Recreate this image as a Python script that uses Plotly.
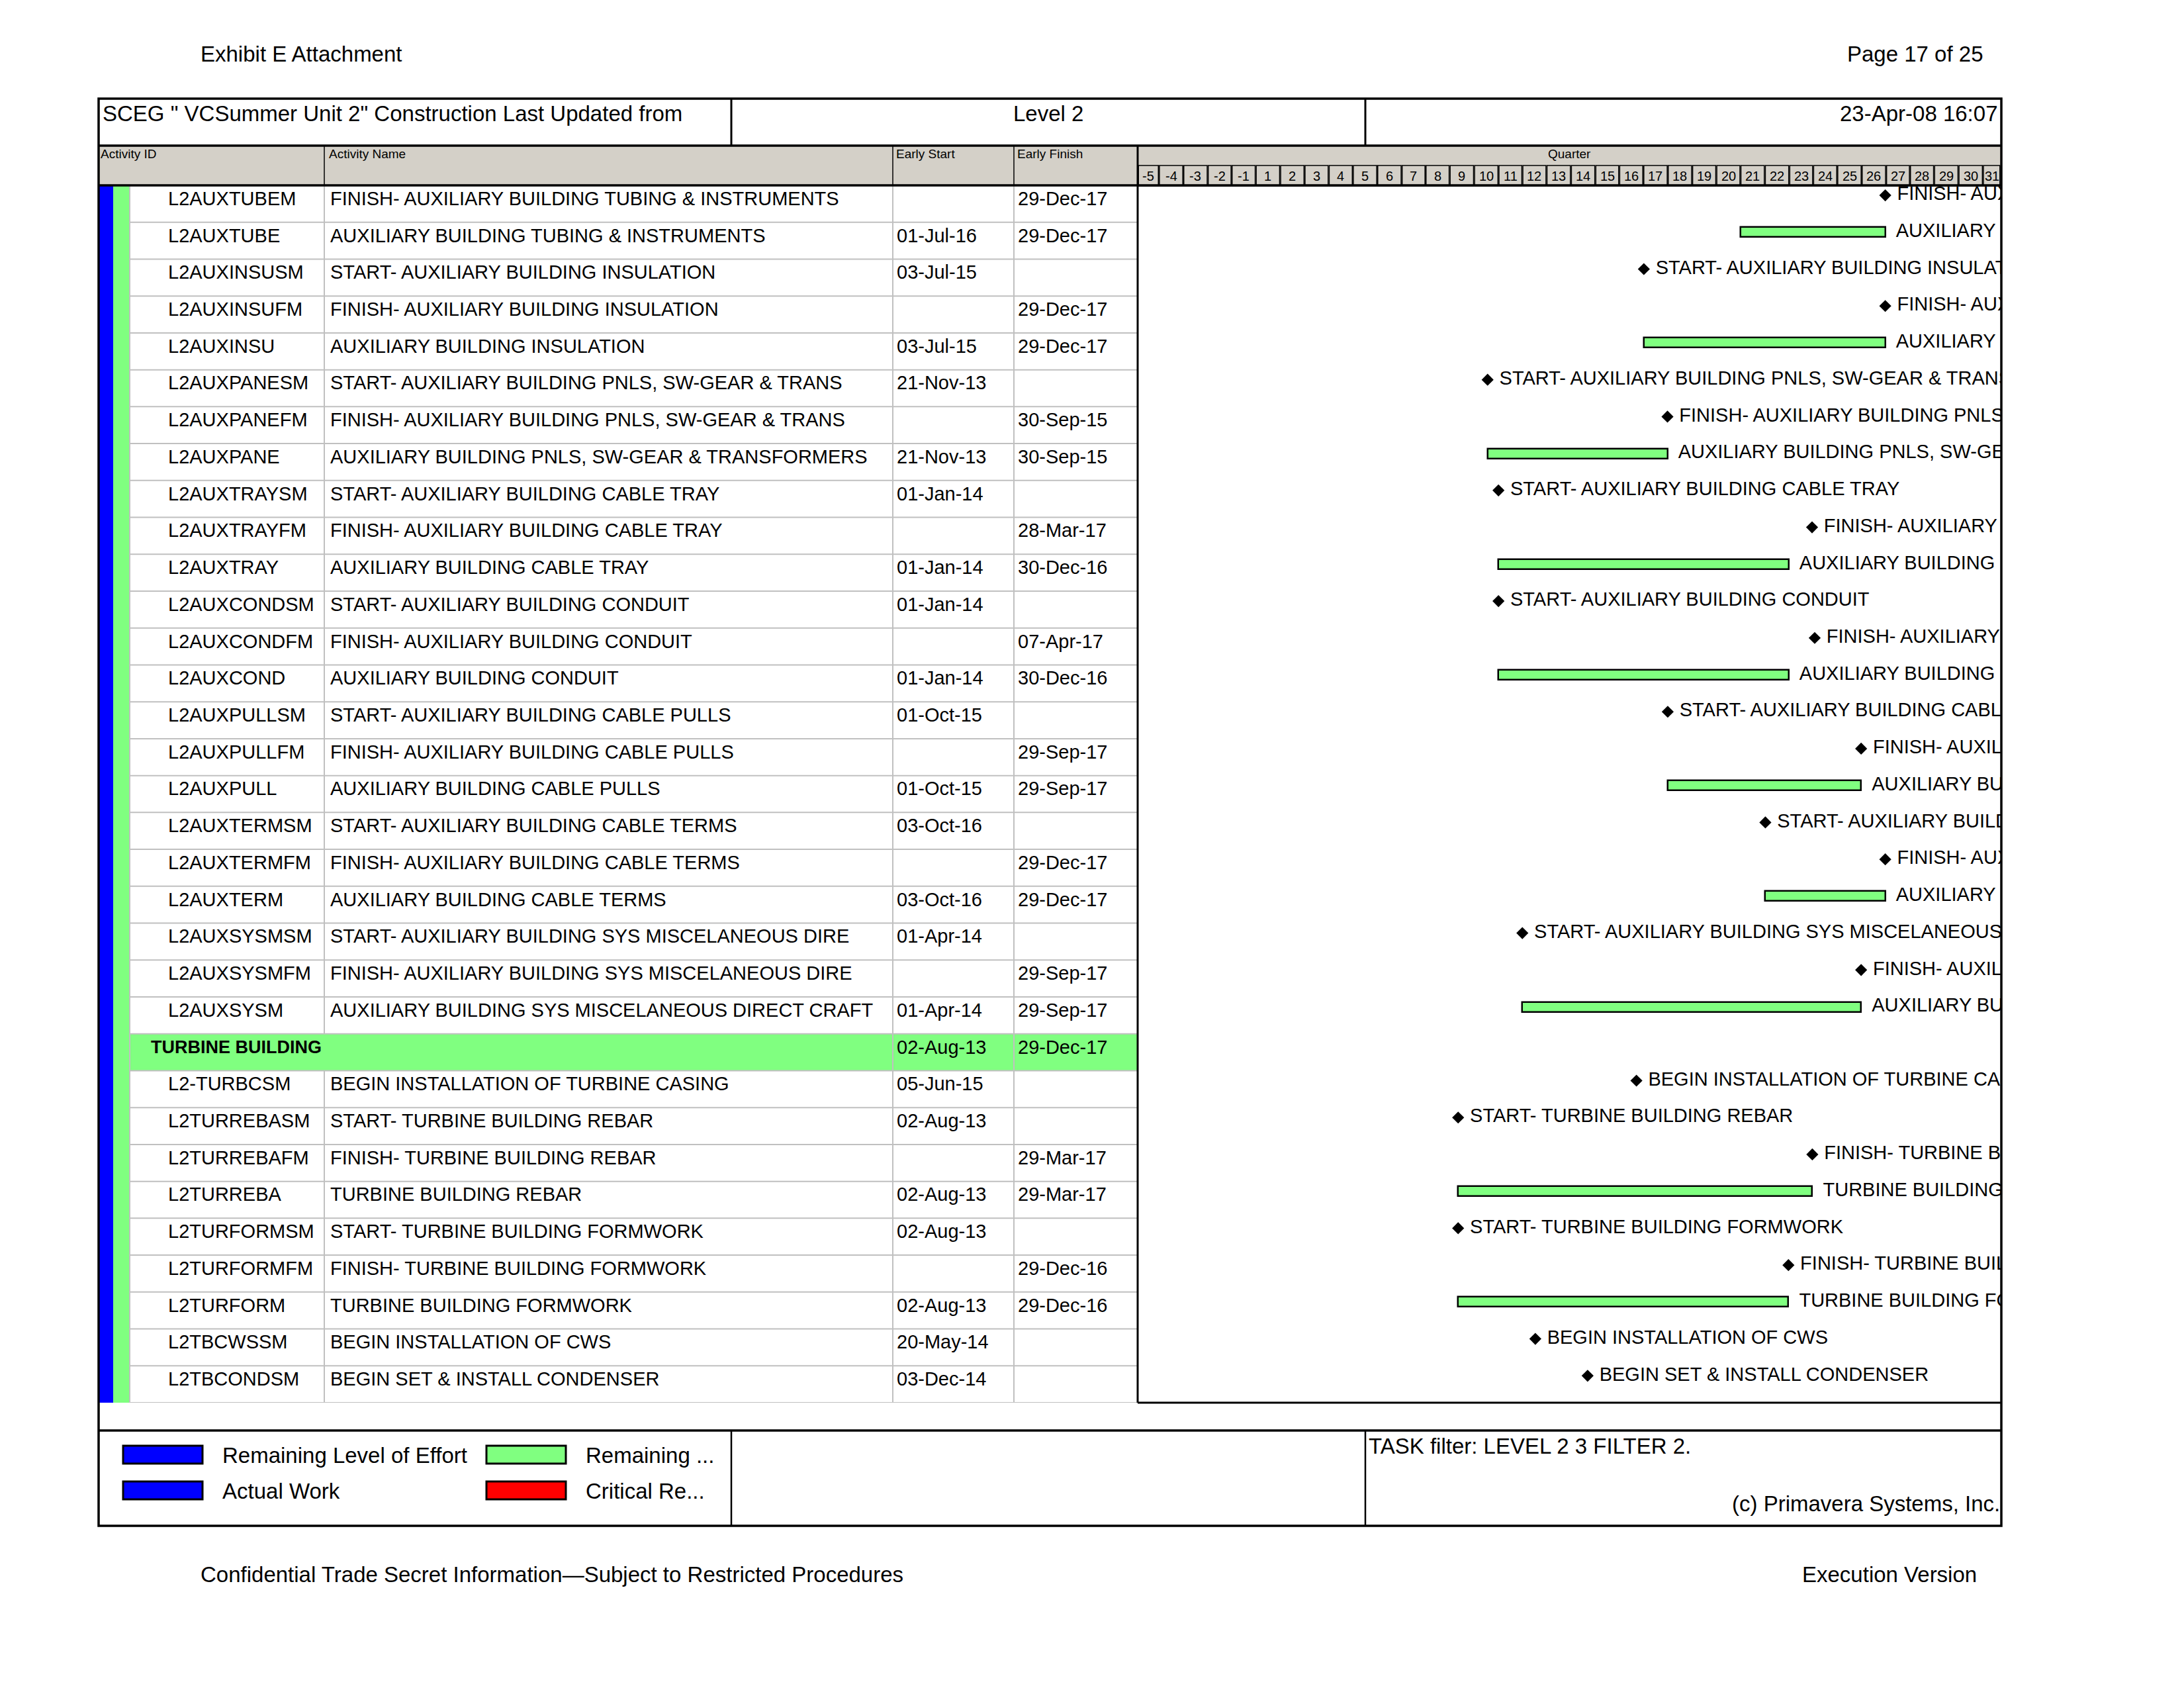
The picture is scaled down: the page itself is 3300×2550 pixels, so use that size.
import plotly.graph_objects as go
import pandas as pd

# ---------------- data ----------------
activity_ids = ["L2AUXTUBEM", "L2AUXTUBE", "L2AUXINSUSM", "L2AUXINSUFM", "L2AUXINSU",
                "L2AUXPANESM", "L2AUXPANEFM", "L2AUXPANE", "L2AUXTRAYSM", "L2AUXTRAYFM",
                "L2AUXTRAY", "L2AUXCONDSM", "L2AUXCONDFM", "L2AUXCOND", "L2AUXPULLSM",
                "L2AUXPULLFM", "L2AUXPULL", "L2AUXTERMSM", "L2AUXTERMFM", "L2AUXTERM",
                "L2AUXSYSMSM", "L2AUXSYSMFM", "L2AUXSYSM", "TURBINE BUILDING", "L2-TURBCSM",
                "L2TURREBASM", "L2TURREBAFM", "L2TURREBA", "L2TURFORMSM", "L2TURFORMFM",
                "L2TURFORM", "L2TBCWSSM", "L2TBCONDSM"]

activity_names = ["FINISH- AUXILIARY BUILDING TUBING & INSTRUMENTS",
                  "AUXILIARY BUILDING TUBING & INSTRUMENTS",
                  "START- AUXILIARY BUILDING INSULATION",
                  "FINISH- AUXILIARY BUILDING INSULATION",
                  "AUXILIARY BUILDING INSULATION",
                  "START- AUXILIARY BUILDING PNLS, SW-GEAR & TRANS",
                  "FINISH- AUXILIARY BUILDING PNLS, SW-GEAR & TRANS",
                  "AUXILIARY BUILDING PNLS, SW-GEAR & TRANSFORMERS",
                  "START- AUXILIARY BUILDING CABLE TRAY",
                  "FINISH- AUXILIARY BUILDING CABLE TRAY",
                  "AUXILIARY BUILDING CABLE TRAY",
                  "START- AUXILIARY BUILDING CONDUIT",
                  "FINISH- AUXILIARY BUILDING CONDUIT",
                  "AUXILIARY BUILDING CONDUIT",
                  "START- AUXILIARY BUILDING CABLE PULLS",
                  "FINISH- AUXILIARY BUILDING CABLE PULLS",
                  "AUXILIARY BUILDING CABLE PULLS",
                  "START- AUXILIARY BUILDING CABLE TERMS",
                  "FINISH- AUXILIARY BUILDING CABLE TERMS",
                  "AUXILIARY BUILDING CABLE TERMS",
                  "START- AUXILIARY BUILDING SYS MISCELANEOUS DIRE",
                  "FINISH- AUXILIARY BUILDING SYS MISCELANEOUS DIRE",
                  "AUXILIARY BUILDING SYS MISCELANEOUS DIRECT CRAFT",
                  "",
                  "BEGIN INSTALLATION OF TURBINE CASING",
                  "START- TURBINE BUILDING REBAR",
                  "FINISH- TURBINE BUILDING REBAR",
                  "TURBINE BUILDING REBAR",
                  "START- TURBINE BUILDING FORMWORK",
                  "FINISH- TURBINE BUILDING FORMWORK",
                  "TURBINE BUILDING FORMWORK",
                  "BEGIN INSTALLATION OF CWS",
                  "BEGIN SET & INSTALL CONDENSER"]

early_start = ["", "01-Jul-16", "03-Jul-15", "", "03-Jul-15", "21-Nov-13", "", "21-Nov-13",
               "01-Jan-14", "", "01-Jan-14", "01-Jan-14", "", "01-Jan-14", "01-Oct-15", "",
               "01-Oct-15", "03-Oct-16", "", "03-Oct-16", "01-Apr-14", "", "01-Apr-14",
               "02-Aug-13", "05-Jun-15", "02-Aug-13", "", "02-Aug-13", "02-Aug-13", "",
               "02-Aug-13", "20-May-14", "03-Dec-14"]

early_finish = ["29-Dec-17", "29-Dec-17", "", "29-Dec-17", "29-Dec-17", "", "30-Sep-15",
                "30-Sep-15", "", "28-Mar-17", "30-Dec-16", "", "07-Apr-17", "30-Dec-16", "",
                "29-Sep-17", "29-Sep-17", "", "29-Dec-17", "29-Dec-17", "", "29-Sep-17",
                "29-Sep-17", "29-Dec-17", "", "", "29-Mar-17", "29-Mar-17", "", "29-Dec-16",
                "29-Dec-16", "", ""]

row_level = ["task"] * 23 + ["wbs"] + ["task"] * 9

quarter_labels = ["-5", "-4", "-3", "-2", "-1"] + [str(q) for q in range(1, 32)]
first_quarter_start = "2010-04-01"

axis_start = "2010-04-12"
axis_end = "2019-03-09"

legend_items = ["Remaining Level of Effort", "Remaining ...", "Actual Work", "Critical Re..."]
legend_colors = ["#0000FF", "#80FF80", "#0000FF", "#FF0000"]

# ---------------- geometry helpers ----------------
W, H = 3300, 2550
FONT = "Liberation Sans, Arial, sans-serif"
GREEN = "#80FF80"
BLUE = "#0000FF"
HDR = "#D4D0C8"
GRID = "#C0C0C0"


def px(x):
    return x / W


def py(y):
    return 1 - y / H


def d(s):
    return pd.to_datetime(s, format="%d-%b-%y")


n_rows = len(activity_ids)
TOP, BOT = 280, 2119
LEFT, RIGHT = 149, 3023
GX0 = 1719
TEXT_OFF = 0.355
GANTT_OFF = 0.27

fig = go.Figure()

# ---------------- gantt traces ----------------
bar_y, bar_base, bar_len, bar_lab_x, bar_lab_t = [], [], [], [], []
ms_x, ms_y, ms_t = [], [], []
for i in range(n_rows):
    if row_level[i] != "task":
        continue
    s, f = early_start[i], early_finish[i]
    if s and f:
        sd, fd = d(s), d(f)
        bar_y.append(i + GANTT_OFF)
        bar_base.append(sd.strftime("%Y-%m-%d"))
        bar_len.append((fd - sd).total_seconds() * 1000)
        bar_lab_x.append(fd.strftime("%Y-%m-%d"))
        bar_lab_t.append("\u00a0\u00a0" + activity_names[i])
    else:
        md = d(s) if s else d(f)
        ms_x.append(md.strftime("%Y-%m-%d"))
        ms_y.append(i + GANTT_OFF)
        ms_t.append("\u00a0" + activity_names[i])

fig.add_trace(go.Bar(
    orientation="h", y=bar_y, base=bar_base, x=bar_len, width=0.27,
    marker=dict(color=GREEN, line=dict(color="black", width=2.5)),
    hoverinfo="skip", showlegend=False))

fig.add_trace(go.Scatter(
    x=bar_lab_x, y=bar_y, mode="text", text=bar_lab_t,
    textposition="middle right",
    textfont=dict(family=FONT, size=29, color="black"),
    hoverinfo="skip", showlegend=False, cliponaxis=True))

fig.add_trace(go.Scatter(
    x=ms_x, y=ms_y, mode="markers+text", text=ms_t,
    marker=dict(symbol="diamond", size=14, color="black"),
    textposition="middle right",
    textfont=dict(family=FONT, size=29, color="black"),
    hoverinfo="skip", showlegend=False, cliponaxis=True))

shapes = []
ann = []


def rect(x0, y0, x1, y1, fill=None, lc=None, lw=0):
    shapes.append(dict(
        type="rect", xref="paper", yref="paper",
        x0=px(x0), x1=px(x1), y0=py(y0), y1=py(y1),
        fillcolor=fill if fill else "rgba(0,0,0,0)",
        line=dict(color=lc if lc else "rgba(0,0,0,0)", width=lw),
        layer="below" if fill else "above"))


def line(x0, y0, x1, y1, color="black", w=3.5, yref="paper"):
    shapes.append(dict(
        type="line", xref="paper", yref=yref,
        x0=px(x0), x1=px(x1),
        y0=py(y0) if yref == "paper" else y0,
        y1=py(y1) if yref == "paper" else y1,
        line=dict(color=color, width=w), layer="above"))


def text(x, y, t, size=29, anchor="left", bold=False, yref="paper"):
    ann.append(dict(
        x=px(x), y=py(y) if yref == "paper" else y, xref="paper", yref=yref,
        text=("<b>%s</b>" % t) if bold else t, showarrow=False,
        xanchor=anchor, yanchor="middle",
        font=dict(family=FONT, size=size, color="black")))


# header band
rect(LEFT, 220, RIGHT, 280, fill=HDR)
# left colour strips
rect(150, TOP, 171, BOT, fill=BLUE)
rect(171, TOP, 196, BOT, fill=GREEN)
# wbs row fill
for i in range(n_rows):
    if row_level[i] == "wbs":
        shapes.append(dict(type="rect", xref="paper", yref="y", x0=px(196), x1=px(GX0),
                           y0=i, y1=i + 1, fillcolor=GREEN, line=dict(width=0), layer="below"))

# row lines
for k in range(1, n_rows + 1):
    line(196, k, GX0, k, color=GRID, w=2, yref="y")
# column lines in body
wbs_rows = [i for i in range(n_rows) if row_level[i] == "wbs"]
shapes.append(dict(type="line", xref="paper", yref="y", x0=px(490), x1=px(490),
                   y0=0, y1=wbs_rows[0], line=dict(color=GRID, width=2)))
shapes.append(dict(type="line", xref="paper", yref="y", x0=px(490), x1=px(490),
                   y0=wbs_rows[0] + 1, y1=n_rows, line=dict(color=GRID, width=2)))
for cx in (1349, 1532):
    line(cx, TOP, cx, BOT, color=GRID, w=2)
line(196, TOP, 196, BOT, color=GRID, w=2)

# header column separators
for cx in (490, 1349, 1532):
    line(cx, 220, cx, 280, color="black", w=1.5)

# title row
line(1105, 149, 1105, 220, w=3)
line(2063, 149, 2063, 220, w=3)
line(LEFT, 220, RIGHT, 220, w=3.5)
line(LEFT, 280, RIGHT, 280, w=3.5)
# gantt border
line(GX0, 220, GX0, BOT, w=3)
line(GX0, BOT, RIGHT, BOT, w=3)

# quarter header cells (drawn on the date axis)
q_starts = pd.date_range(first_quarter_start, periods=len(quarter_labels) + 1, freq="QS")
a0, a1 = pd.Timestamp(axis_start), pd.Timestamp(axis_end)
inset = pd.Timedelta(days=2)
for qi, lab in enumerate(quarter_labels):
    c0 = max(q_starts[qi], a0)
    c1 = min(q_starts[qi + 1], a1)
    x0 = c0 + (inset if c0 > a0 else pd.Timedelta(days=3))
    x1 = c1 - (inset if c1 < a1 else pd.Timedelta(days=3))
    shapes.append(dict(type="rect", xref="x", yref="paper",
                       x0=x0.strftime("%Y-%m-%d %H:%M"), x1=x1.strftime("%Y-%m-%d %H:%M"),
                       y0=py(250), y1=py(281), fillcolor="rgba(0,0,0,0)",
                       line=dict(color="black", width=1.5), layer="above"))
    mid = c0 + (c1 - c0) / 2
    ann.append(dict(x=mid.strftime("%Y-%m-%d %H:%M"), y=py(266), xref="x", yref="paper",
                    text=lab, showarrow=False, xanchor="center", yanchor="middle",
                    font=dict(family=FONT, size=20, color="black")))
text((GX0 + RIGHT) / 2, 233, "Quarter", size=19, anchor="center")

# column header labels
text(150, 233, "Activity ID", size=19)
text(495, 233, "Activity Name", size=19)
text(1352, 233, "Early Start", size=19)
text(1535, 233, "Early Finish", size=19)

# table texts
for i in range(n_rows):
    y = i + TEXT_OFF
    if row_level[i] == "wbs":
        text(226, y, activity_ids[i], size=27, bold=True, yref="y")
    else:
        text(252, y, activity_ids[i], yref="y")
        text(497, y, activity_names[i], yref="y")
    if early_start[i]:
        text(1353, y, early_start[i], yref="y")
    if early_finish[i]:
        text(1536, y, early_finish[i], yref="y")

# outer frame & legend box
rect(LEFT, 149, RIGHT + 1, 2305, lc="black", lw=3.5)
line(LEFT, 2161, RIGHT + 1, 2161, w=3.5)
line(1105, 2161, 1105, 2305, w=2.5)
line(2063, 2161, 2063, 2305, w=2.5)

# legend
leg_pos = [(186, 2184), (735, 2184), (186, 2238), (735, 2238)]
for (lx, ly), lab, col in zip(leg_pos, legend_items, legend_colors):
    rect(lx, ly, lx + 120, ly + 27, fill=col, lc="black", lw=3)
    shapes[-1]["layer"] = "above"
    text(lx + 148, ly + 14, lab, size=33)

# title row texts
text(153, 172, "SCEG \" VCSummer Unit 2\" Construction Last Updated from", size=33)
text(1584, 172, "Level 2", size=33, anchor="center")
text(3021, 172, "23-Apr-08 16:07", size=33, anchor="right")

# filter / copyright
text(2066, 2184, "TASK filter: LEVEL 2 3 FILTER 2.", size=33)
text(3024, 2271, "(c) Primavera Systems, Inc.", size=33, anchor="right")

# page header & footer
text(301, 82, "Exhibit E Attachment", size=33)
text(2999, 82, "Page 17 of 25", size=33, anchor="right")
text(301, 2378, "Confidential Trade Secret Information\u2014Subject to Restricted Procedures", size=33)
text(2989, 2378, "Execution Version", size=33, anchor="right")

fig.update_layout(
    width=W, height=H, margin=dict(l=0, r=0, t=0, b=0, pad=0),
    paper_bgcolor="white", plot_bgcolor="white",
    xaxis=dict(type="date", domain=[px(GX0), px(RIGHT)], range=[axis_start, axis_end],
               visible=False, fixedrange=True),
    yaxis=dict(domain=[py(BOT), py(TOP)], range=[n_rows, 0], visible=False, fixedrange=True),
    shapes=shapes, annotations=ann, showlegend=False, hovermode=False,
    bargap=0,
)

fig.write_html("out.html")
